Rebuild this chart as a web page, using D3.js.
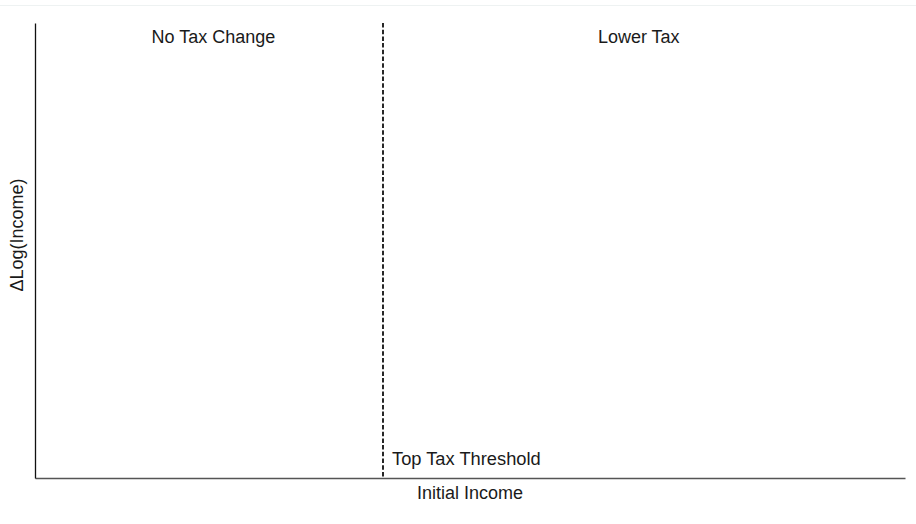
<!DOCTYPE html>
<html>
<head>
<meta charset="utf-8">
<script src="https://cdn.jsdelivr.net/npm/d3@7"></script>
<style>
  html, body { margin: 0; padding: 0; background: #fff; }
  svg text { font-family: "Liberation Sans", Arial, sans-serif; fill: #1a1a1a; }
</style>
</head>
<body>
<svg id="chart" width="916" height="524"></svg>
<script>
// Data (abstract schematic: income axis 0-100, threshold at 40)
const xDomain = [0, 100];
const yDomain = [0, 1];
const threshold = [40];
const regionLabels = ["No Tax Change", "Lower Tax"];
const regionLabelX = [20.5, 69.4];
const thresholdLabel = ["Top Tax Threshold"];
const xTitle = "Initial Income";
const yTitle = "\u0394Log(Income)";

const svg = d3.select("#chart");
const W = 916, H = 524;
const m = { left: 35, right: 11, top: 23, bottom: 46 };

const x = d3.scaleLinear().domain(xDomain).range([m.left, W - m.right]);
const y = d3.scaleLinear().domain(yDomain).range([H - m.bottom, m.top]);

// faint top rule
svg.append("line")
  .attr("x1", 0).attr("x2", W).attr("y1", 5.5).attr("y2", 5.5)
  .attr("stroke", "#eef2f2").attr("stroke-width", 1);

// axes (no ticks)
const xAxis = d3.axisBottom(x).tickValues([]).tickSize(0).tickSizeOuter(0);
const yAxis = d3.axisLeft(y).tickValues([]).tickSize(0).tickSizeOuter(0);

svg.append("g").attr("transform", `translate(0,${y(0)})`).call(xAxis)
  .select(".domain").attr("stroke", "#555").attr("stroke-width", 1.6);
svg.append("g").attr("transform", `translate(${x(0)},0)`).call(yAxis)
  .select(".domain").attr("stroke", "#111").attr("stroke-width", 1.3);

// threshold dashed line
svg.selectAll(".thr").data(threshold).enter().append("line")
  .attr("class", "thr")
  .attr("x1", d => x(d)).attr("x2", d => x(d))
  .attr("y1", y(1)).attr("y2", y(0))
  .attr("stroke", "#111").attr("stroke-width", 1.8)
  .attr("stroke-dasharray", "4.5,2.2");

// region labels
svg.selectAll(".reg").data(regionLabels).enter().append("text")
  .attr("class", "reg")
  .attr("x", (d, i) => x(regionLabelX[i]))
  .attr("y", 43)
  .attr("text-anchor", "middle")
  .style("font-size", "18px")
  .text(d => d);

// threshold label
svg.selectAll(".thrl").data(threshold).enter().append("text")
  .attr("class", "thrl")
  .attr("x", d => x(d) + 9)
  .attr("y", 465)
  .style("font-size", "18.3px")
  .text(thresholdLabel[0]);

// axis titles
svg.append("text")
  .attr("x", (x(0) + x(100)) / 2)
  .attr("y", 499)
  .attr("text-anchor", "middle")
  .style("font-size", "18px")
  .text(xTitle);

svg.append("text")
  .attr("transform", `translate(23,235) rotate(-90)`)
  .attr("text-anchor", "middle")
  .style("font-size", "18px")
  .text(yTitle);
</script>
</body>
</html>
